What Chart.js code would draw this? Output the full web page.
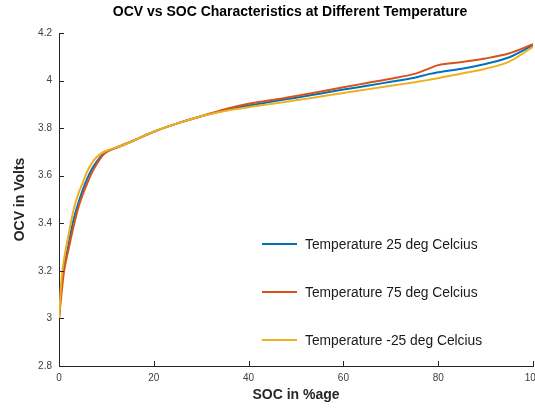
<!DOCTYPE html>
<html>
<head>
<meta charset="utf-8">
<script src="https://cdn.jsdelivr.net/npm/chart.js@4.4.0/dist/chart.umd.min.js"></script>
<style>
html, body { margin: 0; padding: 0; background: #fff; }
#wrap { width: 535px; height: 409px; }
</style>
</head>
<body>
<div id="wrap"><canvas id="ocvChart" width="535" height="409"></canvas></div>
<script>
// SOC (%) sample points
const soc = [0, 0.5, 1, 2, 3, 4, 5, 6, 7, 8, 9, 10, 11, 13, 16, 20, 25, 30, 35, 40, 45, 50, 55, 60, 65, 70, 75, 78, 80, 85, 90, 95, 100];

const ocv25 = [3.0, 3.13, 3.21, 3.31, 3.41, 3.48, 3.54, 3.59, 3.63, 3.66, 3.685, 3.70, 3.71, 3.725, 3.75, 3.785, 3.82, 3.85, 3.875, 3.895, 3.912, 3.928, 3.945, 3.962, 3.978, 3.995, 4.012, 4.027, 4.035, 4.05, 4.07, 4.098, 4.149];
const ocv75 = [3.0, 3.10, 3.19, 3.29, 3.38, 3.46, 3.52, 3.57, 3.615, 3.65, 3.68, 3.70, 3.71, 3.725, 3.75, 3.785, 3.82, 3.85, 3.88, 3.903, 3.918, 3.935, 3.953, 3.972, 3.99, 4.008, 4.028, 4.05, 4.065, 4.078, 4.093, 4.115, 4.153];
const ocvMinus25 = [3.0, 3.16, 3.24, 3.35, 3.45, 3.52, 3.57, 3.62, 3.655, 3.68, 3.695, 3.705, 3.712, 3.725, 3.75, 3.785, 3.82, 3.85, 3.872, 3.888, 3.902, 3.917, 3.932, 3.948, 3.963, 3.978, 3.993, 4.003, 4.01, 4.03, 4.05, 4.08, 4.142];

const seriesLabels = ['Temperature 25 deg Celcius', 'Temperature 75 deg Celcius', 'Temperature -25 deg Celcius'];
const xTicks = [0, 20, 40, 60, 80, 100];
const yTicks = [2.8, 3, 3.2, 3.4, 3.6, 3.8, 4, 4.2];
const chartTitle = 'OCV vs SOC Characteristics at Different Temperature';

const axisColor = '#262626';
const fontFamily = '"Liberation Sans", Arial, Helvetica, sans-serif';

function toPoints(ys) {
    return soc.map((x, i) => ({ x: x, y: ys[i] }));
}

// MATLAB style tick marks pointing into the plot area
const innerTicks = {
    id: 'innerTicks',
    afterDatasetsDraw(chart) {
        const { ctx, chartArea, scales } = chart;
        ctx.save();
        ctx.strokeStyle = axisColor;
        ctx.lineWidth = 1;
        ctx.beginPath();
        scales.x.ticks.forEach(t => {
            const px = Math.round(scales.x.getPixelForValue(t.value)) + 0.5;
            ctx.moveTo(px, chartArea.bottom);
            ctx.lineTo(px, chartArea.bottom - 5);
        });
        scales.y.ticks.forEach(t => {
            const py = Math.round(scales.y.getPixelForValue(t.value)) + 0.5;
            ctx.moveTo(chartArea.left, py);
            ctx.lineTo(chartArea.left + 5, py);
        });
        ctx.stroke();
        ctx.restore();
    }
};

// title centred over the axes rather than the whole canvas
const axesTitle = {
    id: 'axesTitle',
    afterDraw(chart) {
        const ctx = chart.ctx;
        ctx.save();
        ctx.font = 'bold 14px ' + fontFamily;
        ctx.fillStyle = '#000';
        ctx.textAlign = 'center';
        ctx.textBaseline = 'middle';
        ctx.fillText(chartTitle, 290, 12);
        ctx.restore();
    }
};

// legend sits inside the axes, without a box
const insideLegend = {
    id: 'insideLegend',
    afterDraw(chart) {
        const ctx = chart.ctx;
        const rows = [244, 292, 340];
        ctx.save();
        ctx.font = '13.8px ' + fontFamily;
        ctx.textBaseline = 'middle';
        ctx.textAlign = 'left';
        chart.data.datasets.forEach((ds, i) => {
            const y = rows[i];
            ctx.strokeStyle = ds.borderColor;
            ctx.lineWidth = 2;
            ctx.beginPath();
            ctx.moveTo(262, y);
            ctx.lineTo(297, y);
            ctx.stroke();
            ctx.fillStyle = '#1a1a1a';
            ctx.fillText(ds.label, 305, y + 1);
        });
        ctx.restore();
    }
};

const ctx = document.getElementById('ocvChart').getContext('2d');
new Chart(ctx, {
    type: 'line',
    data: {
        datasets: [
            { label: seriesLabels[0], data: toPoints(ocv25), borderColor: '#0072BD', order: 3 },
            { label: seriesLabels[1], data: toPoints(ocv75), borderColor: '#D95319', order: 2 },
            { label: seriesLabels[2], data: toPoints(ocvMinus25), borderColor: '#EDB120', order: 1 }
        ]
    },
    options: {
        responsive: false,
        animation: false,
        devicePixelRatio: 1,
        layout: { padding: { top: 33, right: 2, bottom: 0, left: 0 } },
        elements: {
            point: { radius: 0 },
            line: { borderWidth: 2, cubicInterpolationMode: 'monotone', fill: false }
        },
        plugins: {
            legend: { display: false },
            tooltip: { enabled: false },
            title: { display: false }
        },
        scales: {
            x: {
                type: 'linear',
                min: 0,
                max: 100,
                afterBuildTicks: scale => { scale.ticks = xTicks.map(v => ({ value: v })); },
                afterFit: scale => {
                    scale.height = 43;
                    scale.paddingLeft = 0;
                    scale.paddingRight = 0;
                },
                grid: { drawOnChartArea: false, drawTicks: false },
                border: { display: true, color: axisColor, width: 1 },
                ticks: {
                    color: '#404040',
                    padding: 6,
                    maxRotation: 0,
                    font: { family: fontFamily, size: 10 }
                },
                title: {
                    display: true,
                    text: 'SOC in %age',
                    color: axisColor,
                    font: { family: fontFamily, size: 14, weight: 'bold' },
                    padding: { top: 0, bottom: 5 }
                }
            },
            y: {
                type: 'linear',
                min: 2.8,
                max: 4.2,
                afterBuildTicks: scale => { scale.ticks = yTicks.map(v => ({ value: v })); },
                afterFit: scale => {
                    scale.width = 59;
                    scale.paddingTop = 0;
                    scale.paddingBottom = 0;
                },
                grid: { drawOnChartArea: false, drawTicks: false },
                border: { display: true, color: axisColor, width: 1 },
                ticks: {
                    color: '#404040',
                    padding: 7,
                    font: { family: fontFamily, size: 10 },
                    callback: v => String(Number(v.toFixed(1)))
                },
                title: {
                    display: true,
                    text: 'OCV in Volts',
                    color: axisColor,
                    font: { family: fontFamily, size: 14, weight: 'bold' },
                    padding: { top: 12, bottom: 0 }
                }
            }
        }
    },
    plugins: [innerTicks, axesTitle, insideLegend]
});
</script>
</body>
</html>
